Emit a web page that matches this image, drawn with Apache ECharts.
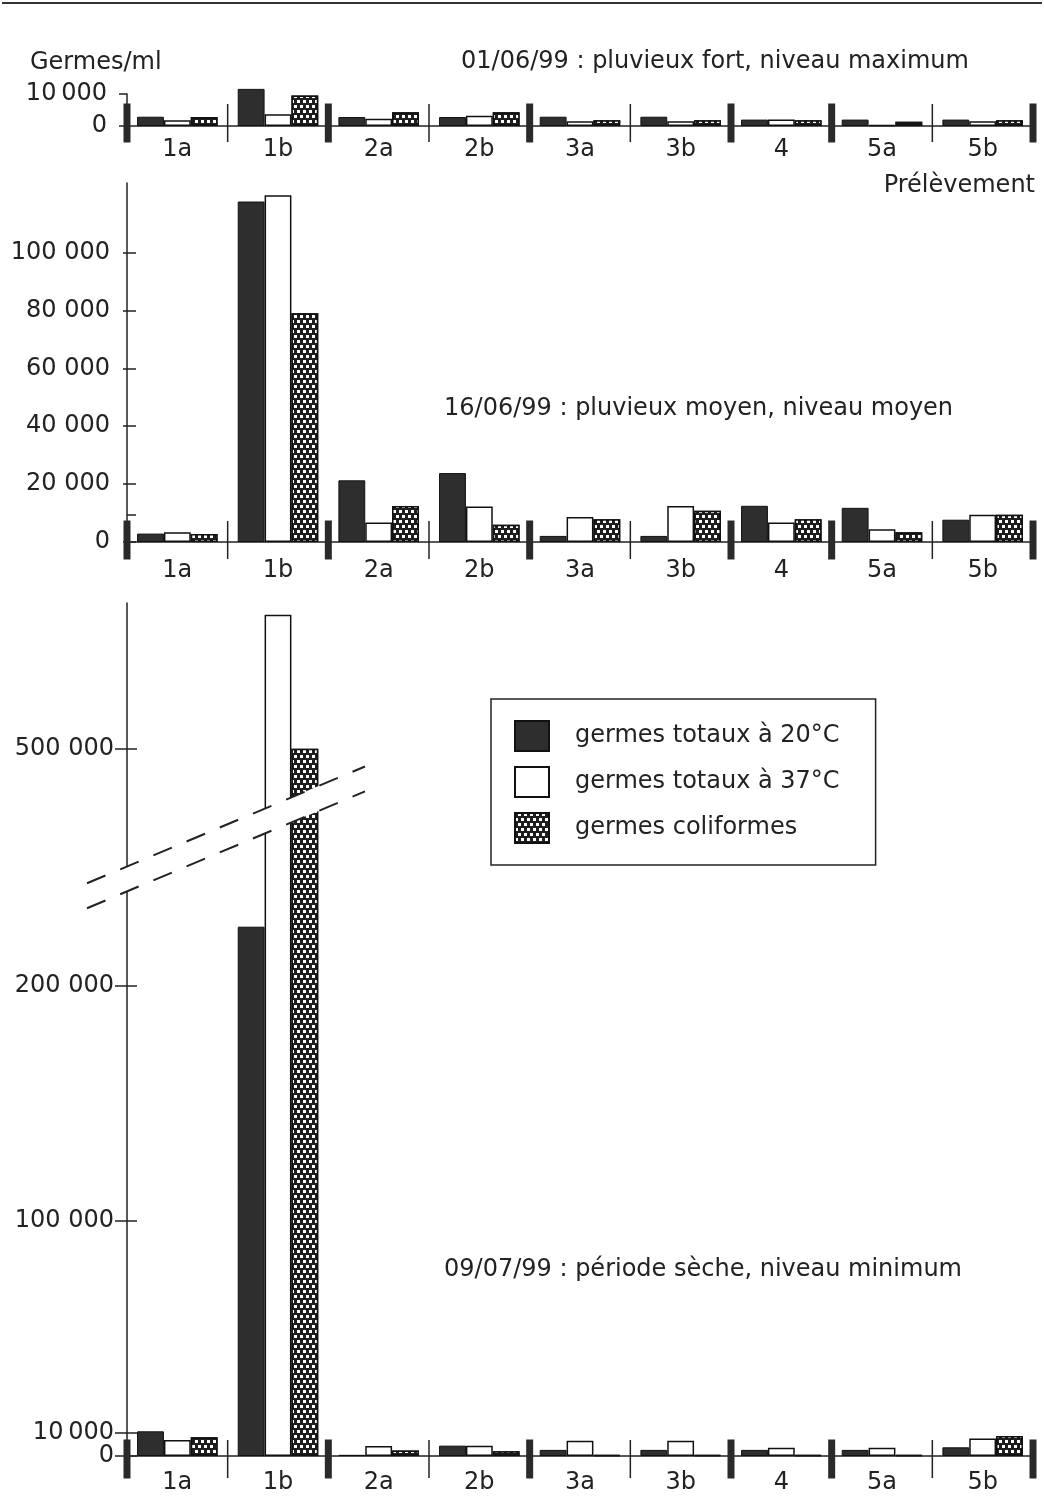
<!DOCTYPE html>
<html>
<head>
<meta charset="utf-8">
<script src="https://cdn.jsdelivr.net/npm/echarts@6/dist/echarts.min.js"></script>
<style>
  html, body { margin: 0; padding: 0; background: #fff; }
  #box { width: 1044px; height: 1497px; }
</style>
</head>
<body>
<div id="box"></div>
<script>
var categories = ["1a", "1b", "2a", "2b", "3a", "3b", "4", "5a", "5b"];
var seriesNames = ["germes totaux à 20°C", "germes totaux à 37°C", "germes coliformes"];

// 01/06/99 : pluvieux fort
var juin01_t20 = [2900, 11600, 2800, 2800, 2900, 2900, 2000, 2000, 2000];
var juin01_t37 = [1800, 3700, 2300, 3200, 1500, 1500, 2000, 300, 1500];
var juin01_coli = [2800, 9500, 4300, 4300, 1800, 1800, 1800, 1300, 1800];

// 16/06/99 : pluvieux moyen
var juin16_t20 = [2900, 117600, 21300, 23800, 2100, 2100, 12500, 11800, 7700];
var juin16_t37 = [3400, 119800, 6700, 12300, 8600, 12400, 6700, 4400, 9400];
var juin16_coli = [2800, 79000, 12400, 6000, 7900, 10800, 7900, 3400, 9400];

// 09/07/99 : période sèche
var juil09_t20 = [10500, 225000, 500, 4400, 2600, 2600, 2600, 2600, 3700];
var juil09_t37 = [6800, 557000, 4200, 4400, 6500, 6500, 3500, 3500, 7400];
var juil09_coli = [8000, 500000, 2300, 2000, 400, 400, 400, 400, 8500];

// graduations
var topTicks = [0, 10000];
var midTicks = [0, 20000, 40000, 60000, 80000, 100000];
var midExtraTick = [9500];
var lowTicks = [0, 100000, 200000, 500000];
var lowSoloTicks = [10000];
var lowBreak = { start: 240000, end: 450000 };

// séparateurs entre prélèvements (bornes de catégories)
var thickSeparators = [0, 2, 4, 6, 7, 9];
var thinSeparators = [1, 3, 5, 8];

var titles = [
  { text: "Germes/ml", left: 30, top: 51 },
  { text: "01/06/99 : pluvieux fort, niveau maximum", left: 461, top: 50 },
  { text: "Prélèvement", right: 9, top: 174 },
  { text: "16/06/99 : pluvieux moyen, niveau moyen", left: 444, top: 397 },
  { text: "09/07/99 : période sèche, niveau minimum", left: 444, top: 1258 }
];

var FONT = "DejaVu Sans";
var INK = "#222";

function fmt(v) {
  if (v === 10000) return "10\u2009000";
  return String(v).replace(/\B(?=(\d{3})+(?!\d))/g, " ");
}

var chart = echarts.init(document.getElementById("box"));

var panels = [
  { top: 94, height: 32, max: 10000, ticks: topTicks, tickExtra: [], solo: [], data: [juin01_t20, juin01_t37, juin01_coli],
    outTick: 8, inTick: 0, labelMargin: 20, catMargin: 12, sepOffset: -3 },
  { top: 183, height: 359, max: 124000, ticks: midTicks, tickExtra: midExtraTick, solo: [], data: [juin16_t20, juin16_t37, juin16_coli],
    outTick: 4, inTick: 9, labelMargin: 17, catMargin: 17, sepOffset: -2 },
  { top: 603, height: 853, max: 562000, ticks: lowTicks, tickExtra: lowSoloTicks, solo: lowSoloTicks, data: [juil09_t20, juil09_t37, juil09_coli],
    outTick: 12, inTick: 10, labelMargin: 13, catMargin: 15, sepOffset: 3, brk: lowBreak }
];

var barStyles = [
  { color: "#2e2e2e", borderColor: "#111", borderWidth: 1 },
  { color: "#fff", borderColor: "#111", borderWidth: 1.5 },
  { color: "#1e1e1e", borderColor: "#111", borderWidth: 1.5,
    decal: { symbol: "rect", color: "#fff", symbolSize: 1, dashArrayX: [[3, 3], [0, 3, 3, 0]], dashArrayY: [3, 2] } }
];

function valueAxis(p, i, extra) {
  var brks = p.brk ? [{ start: p.brk.start, end: p.brk.end, gap: 10600 }] : undefined;
  return Object.assign({
    type: "value", gridIndex: i, position: "left", min: 0, max: p.max,
    breaks: brks, breakArea: { show: false },
    splitLine: { show: false }
  }, extra);
}

var grids = [], xAxes = [], yAxes = [], series = [], soloAxes = [];
panels.forEach(function (p, i) {
  grids.push({ left: 127, right: 11, top: p.top, height: p.height });
  xAxes.push({
    type: "category", gridIndex: i, data: categories,
    axisLine: { lineStyle: { color: INK, width: 1.5 } },
    axisTick: { show: false },
    axisLabel: { fontFamily: FONT, fontSize: 24, color: INK, margin: p.catMargin }
  });
  xAxes.push({ type: "value", gridIndex: i, min: 0, max: 9, show: false });
  var labelStyle = { formatter: fmt, fontFamily: FONT, fontSize: 24, color: INK, margin: p.labelMargin };
  yAxes.push(valueAxis(p, i, {
    axisLine: { show: true, lineStyle: { color: INK, width: 1.5 } },
    axisTick: { show: true, length: p.outTick, customValues: p.ticks, lineStyle: { color: INK, width: 1.5 } },
    axisLabel: Object.assign({ customValues: p.ticks }, labelStyle)
  }));
  yAxes.push(valueAxis(p, i, {
    axisLine: { show: false },
    axisLabel: { show: false },
    axisTick: { show: p.inTick > 0, inside: true, length: p.inTick, customValues: p.ticks.concat(p.tickExtra),
      lineStyle: { color: INK, width: 1.5 } }
  }));
  if (p.solo.length) {
    soloAxes.push(valueAxis(p, i, {
      axisLine: { show: false },
      axisTick: { show: true, length: p.outTick, customValues: p.solo, lineStyle: { color: INK, width: 1.5 } },
      axisLabel: Object.assign({ customValues: p.solo }, labelStyle)
    }));
  }
  p.data.forEach(function (d, k) {
    series.push({
      type: "bar", name: seriesNames[k], xAxisIndex: 2 * i, yAxisIndex: 2 * i,
      data: d, barGap: "0%", barCategoryGap: "20%", clip: false,
      itemStyle: barStyles[k], emphasis: { disabled: true }
    });
  });
  series.push({
    type: "scatter", xAxisIndex: 2 * i + 1, yAxisIndex: 2 * i, z: 5, clip: false,
    symbol: "rect", symbolSize: [7, 39], symbolOffset: [0, p.sepOffset],
    itemStyle: { color: "#2a2a2a", opacity: 1 }, silent: true,
    data: thickSeparators.map(function (x) { return [x, 0]; })
  });
  series.push({
    type: "scatter", xAxisIndex: 2 * i + 1, yAxisIndex: 2 * i, z: 5, clip: false,
    symbol: "rect", symbolSize: [1.5, 38], symbolOffset: [0, p.sepOffset],
    itemStyle: { color: INK, opacity: 1 }, silent: true,
    data: thinSeparators.map(function (x) { return [x, 0]; })
  });
});
yAxes = yAxes.concat(soloAxes);

var option = {
  backgroundColor: "#fff",
  animation: false,
  title: titles.map(function (t) {
    return Object.assign({ padding: 0, textStyle: { fontFamily: FONT, fontSize: 24, fontWeight: "normal", color: INK } }, t);
  }),
  legend: {
    data: seriesNames, orient: "vertical", left: 491, top: 699,
    itemWidth: 34, itemHeight: 30, itemGap: 14, icon: "rect",
    padding: [21, 36, 21, 23], borderColor: INK, borderWidth: 1.5,
    selectedMode: false,
    textStyle: { fontFamily: FONT, fontSize: 24, color: INK, padding: [0, 0, 0, 21] }
  },
  grid: grids,
  xAxis: xAxes,
  yAxis: yAxes,
  series: series
};
chart.setOption(option);

// coupure d'axe : bande blanche oblique bordée de deux tirets
var yHi = chart.convertToPixel({ yAxisIndex: 4 }, lowBreak.end);
var yLo = chart.convertToPixel({ yAxisIndex: 4 }, lowBreak.start);
var x0 = chart.convertToPixel({ xAxisIndex: 5 }, 0);
var slope = 0.42, xa = x0 - 40, xb = x0 + 238;
function yAt(base, x) { return base - (x - x0) * slope; }
chart.setOption({
  graphic: [
    { type: "line", shape: { x1: 2, y1: 3, x2: 1042, y2: 3 }, style: { stroke: "#333", lineWidth: 2 } },
    { type: "polygon", z: 100,
      shape: { points: [[xa, yAt(yHi, xa)], [xb, yAt(yHi, xb)], [xb, yAt(yLo, xb)], [xa, yAt(yLo, xa)]] },
      style: { fill: "#fff" } },
    { type: "line", z: 101, shape: { x1: xa, y1: yAt(yHi, xa), x2: xb, y2: yAt(yHi, xb) },
      style: { stroke: INK, lineWidth: 2, lineDash: [20, 16] } },
    { type: "line", z: 101, shape: { x1: xa, y1: yAt(yLo, xa), x2: xb, y2: yAt(yLo, xb) },
      style: { stroke: INK, lineWidth: 2, lineDash: [20, 16] } }
  ]
});
</script>
</body>
</html>
